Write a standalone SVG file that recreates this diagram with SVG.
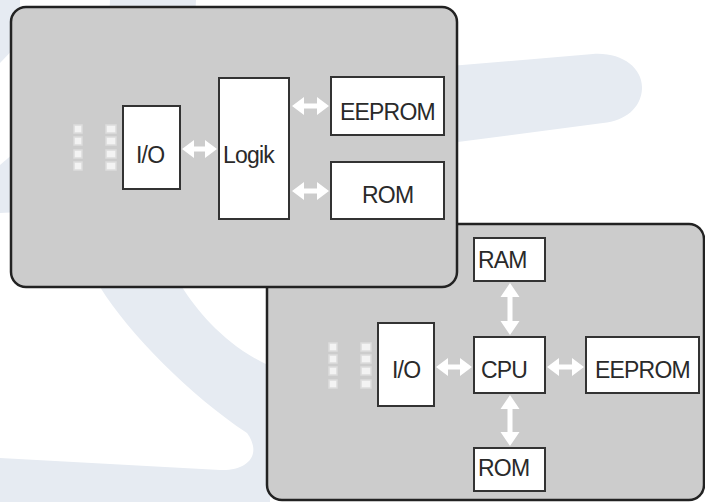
<svg xmlns="http://www.w3.org/2000/svg" width="705" height="502" viewBox="0 0 705 502">
<style>
.wm{fill:#e6ebf2;stroke:none}
.panel{fill:#cccccc;stroke:#222;stroke-width:2.5}
.box{fill:#ffffff;stroke:#333;stroke-width:2}
.pin{fill:#f3f3f3;stroke:#dcdcdc;stroke-width:1.5}
.arr{fill:#ffffff;stroke:none}
.lbl{font-family:"Liberation Sans",Arial,Helvetica,sans-serif;font-size:23px;fill:#2a2a2a;letter-spacing:-0.8px}
</style>
<rect x="0" y="0" width="705" height="502" fill="#ffffff"/>
<g id="watermark">
<path class="wm" d="M110 0 L196 0 L182 287 C198 312 226 346 270 366 L270 502 L0 502 L0 458 L220 470 C240 471 256 462 253 446 C251 438 249 436 247 433 C190 395 130 335 100 287 Z"/>
<path class="wm" d="M450 66 L593 54 C622 52 643 68 642 89 C641 108 625 121 603 123 L450 143 Z"/>
<path class="wm" d="M0 0 L20 0 L20 42 L0 63 Z"/>
<path class="wm" d="M0 165 L20 148 L20 212 L0 213 Z"/>
</g>
<g id="panel-cpu">
<rect class="panel" x="267" y="224" width="437" height="276" rx="15"/>
</g>
<g id="panel-logic">
<rect class="panel" x="11" y="7" width="446" height="280" rx="15"/>
</g>
<g id="pins-1">
<rect class="pin" x="74" y="125" width="8" height="8"/>
<rect class="pin" x="74" y="137" width="8" height="8"/>
<rect class="pin" x="74" y="150" width="8" height="8"/>
<rect class="pin" x="74" y="162" width="8" height="8"/>
<rect class="pin" x="106" y="125" width="10" height="8"/>
<rect class="pin" x="106" y="137" width="10" height="8"/>
<rect class="pin" x="106" y="150" width="10" height="8"/>
<rect class="pin" x="106" y="162" width="10" height="8"/>
</g>
<g id="io-1">
<rect class="box" x="123" y="106" width="57" height="83"/>
<text class="lbl" x="136" y="163">I/O</text>
</g>
<g id="logik">
<rect class="box" x="219" y="78" width="70" height="141"/>
<text class="lbl" x="223" y="163">Logik</text>
</g>
<g id="eeprom-1">
<rect class="box" x="331" y="77" width="113" height="58"/>
<text class="lbl" x="340" y="120">EEPROM</text>
</g>
<g id="rom-1">
<rect class="box" x="331" y="162" width="113" height="57"/>
<text class="lbl" x="362" y="203">ROM</text>
</g>
<g id="pins-2">
<rect class="pin" x="329" y="343" width="8" height="8"/>
<rect class="pin" x="329" y="355" width="8" height="8"/>
<rect class="pin" x="329" y="367" width="8" height="8"/>
<rect class="pin" x="329" y="380" width="8" height="8"/>
<rect class="pin" x="361" y="343" width="10" height="8"/>
<rect class="pin" x="361" y="355" width="10" height="8"/>
<rect class="pin" x="361" y="367" width="10" height="8"/>
<rect class="pin" x="361" y="380" width="10" height="8"/>
</g>
<g id="io-2">
<rect class="box" x="378" y="323" width="56" height="83"/>
<text class="lbl" x="392" y="378">I/O</text>
</g>
<g id="ram">
<rect class="box" x="474" y="238" width="71" height="43"/>
<text class="lbl" x="478" y="268">RAM</text>
</g>
<g id="cpu">
<rect class="box" x="474" y="337" width="71" height="56"/>
<text class="lbl" x="481" y="378">CPU</text>
</g>
<g id="eeprom-2">
<rect class="box" x="586" y="337" width="113" height="56"/>
<text class="lbl" x="595" y="378">EEPROM</text>
</g>
<g id="rom-2">
<rect class="box" x="474" y="448" width="71" height="43"/>
<text class="lbl" x="478" y="476">ROM</text>
</g>
<g id="connectors">
<polygon class="arr" points="182,149 194,140 194,146.5 205,146.5 205,140 217,149 205,158 205,151.5 194,151.5 194,158"/>
<polygon class="arr" points="292,106 304,97 304,103.5 317,103.5 317,97 329,106 317,115 317,108.5 304,108.5 304,115"/>
<polygon class="arr" points="292,191 304,182 304,188.5 317,188.5 317,182 329,191 317,200 317,193.5 304,193.5 304,200"/>
<polygon class="arr" points="436,367 448,358 448,364.5 460,364.5 460,358 472,367 460,376 460,369.5 448,369.5 448,376"/>
<polygon class="arr" points="547,367 559,358 559,364.5 572,364.5 572,358 584,367 572,376 572,369.5 559,369.5 559,376"/>
<polygon class="arr" points="510,283 519.5,297 512.5,297 512.5,321 519.5,321 510,335 500.5,321 507.5,321 507.5,297 500.5,297"/>
<polygon class="arr" points="510,395 519.5,409 512.5,409 512.5,432 519.5,432 510,446 500.5,432 507.5,432 507.5,409 500.5,409"/>
</g>
</svg>
